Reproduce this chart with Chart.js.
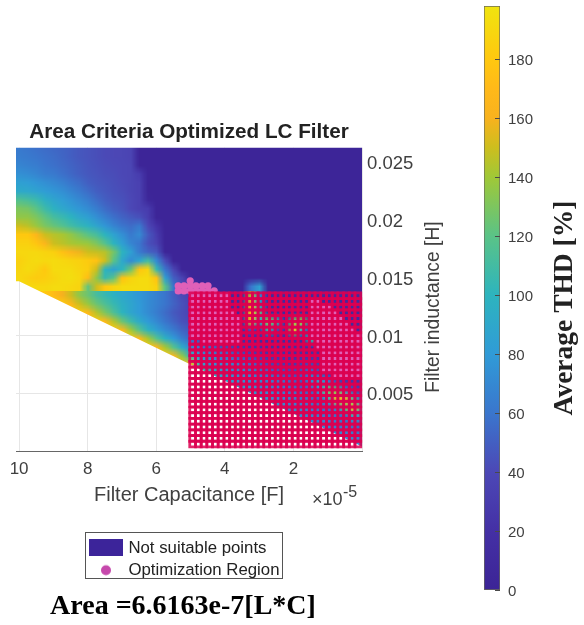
<!DOCTYPE html>
<html>
<head>
<meta charset="utf-8">
<script src="https://cdn.jsdelivr.net/npm/chart.js@4"></script>
<style>
html,body{margin:0;padding:0;background:#fff;width:584px;height:625px;overflow:hidden}
canvas{position:absolute;top:0;filter:blur(0.55px)}
#main{left:0}
#bar{left:470px}
</style>
</head>
<body>
<canvas id="main" width="470" height="625"></canvas>
<canvas id="bar" width="114" height="625"></canvas>
<script>
const titleText = "Area Criteria Optimized LC Filter";
const xTitle = "Filter Capacitance [F]";
const yTitle = "Filter inductance [H]";
const barTitle = "Average THD [%]";
const areaText = "Area =6.6163e-7[L*C]";
const legendNames = ["Not suitable points", "Optimization Region"];

// colour scale: THD value -> colour
const thdStops = [0,20,40,60,80,100,120,140,150,160,170,180,198];
const thdColors = [[60,36,150],[68,48,165],[76,72,182],[58,118,205],[48,155,215],[45,180,190],[90,195,135],[160,200,55],[205,190,30],[248,178,30],[255,185,25],[255,200,15],[240,228,15]];
const barTicks = [0,20,40,60,80,100,120,140,160,180];

// surface columns (capacitance, x1e-5 F) and rows (inductance, H)
const surfaceC = [10,9.75,9.5,9.25,9,8.75,8.5,8.25,8,7.75,7.5,7.25,7,6.75,6.5,6.25,6,5.75,5.5,5.25,5,4.75,4.5,4.25,4,3.75,3.5,3.25,3,2.75,2.5,2.25,2,1.75,1.5,1.25,1,0.75,0.5,0.25,0];
const surfaceL = [0.02625,0.0255,0.02475,0.024,0.02325,0.0225,0.02175,0.021,0.02025,0.0195,0.01875,0.018,0.01725,0.0165,0.01575,0.015,0.01425,0.0135,0.01275,0.012,0.01125,0.0105,0.00975,0.009,0.00825,0.0075,0.00675,0.006,0.00525,0.0045,0.00375,0.003,0.00225,0.0015,0.00075,0];
// lower edge of the computed surface
const edgeC = [10,5,0];
const edgeL = [0.0147,0.0075,0.0004];
// first listed column per row; columns after a row's list hold the floor value
const surfaceFloor = 2;
const rowStart = [0,0,0,0,0,0,0,0,0,0,0,0,0,0,0,0,0,3,5,7,9,11,13,15,17,20,22,24,26,28,30,32,34,36,39,40];
const thdRows = [
[62,60,58,56,54,52,50,47,45,43,41,40,39,37,2],
[64,62,60,58,56,53,50,47,45,43,41,40,39,37,2],
[68,66,64,60,58,55,52,49,46,44,42,41,40,38,3],
[74,72,68,64,62,58,54,50,47,45,43,42,40,38,30,2],
[84,82,78,74,70,66,60,56,50,47,45,43,41,38,34,2],
[92,90,86,82,78,74,68,62,56,50,47,44,42,38,34,3],
[116,112,106,96,88,82,76,70,64,56,50,46,44,40,34,6],
[130,128,120,108,98,90,84,78,72,64,56,50,46,40,34,30,2],
[136,136,130,122,112,106,100,90,84,74,66,58,52,48,44,32,2],
[150,146,138,130,124,118,110,104,98,88,78,68,60,56,62,40,22,2],
[180,180,165,150,145,142,136,128,120,112,100,86,74,62,70,48,30,2],
[186,186,178,165,150,146,142,140,138,130,118,100,84,68,60,44,34,2],
[190,190,190,188,185,175,165,158,150,148,145,128,100,84,62,52,46,2],
[186,190,192,190,192,190,188,186,182,176,150,120,90,72,88,110,70,42,2],
[188,192,188,180,192,192,192,188,184,150,100,85,100,125,178,188,105,60,38,2],
[190,186,182,184,188,192,194,190,172,135,105,120,176,188,192,192,176,85,50,36,4],
[192,190,190,190,192,192,190,188,122,150,180,188,192,192,192,192,186,120,60,40,30,2,2,2,2,2,2,60,85,2],
[180,172,160,150,135,125,112,105,98,90,85,78,72,66,60,50,40,34,10,10,10,10,10,10,145,70,10,10,10,10,10,10,10,10,10,10,10,10],
[182,168,150,138,125,115,105,95,88,80,72,66,60,52,44,36,12,12,12,12,12,12,168,92,10,10,10,10,10,10,10,10,10,10,10,10],
[182,168,145,130,115,100,88,80,72,64,56,48,42,36,14,14,14,14,14,14,178,120,10,10,10,10,10,10,10,10,10,10,10,10],
[182,168,145,125,108,92,80,70,60,52,44,40,16,16,16,16,16,16,170,90,135,110,14,130,140,20,12,12,12,12,12,12],
[182,168,140,118,98,84,72,62,52,46,20,20,20,20,20,20,40,20,105,40,20,190,90,22,14,14,14,14,14,14],
[182,168,142,118,98,80,64,54,40,34,28,24,20,18,16,14,14,14,14,14,14,110,90,20,14,14,14,14],
[182,168,142,118,92,72,62,56,48,40,32,26,22,20,18,18,18,18,18,18,18,18,18,18,18,18],
[182,168,135,100,78,72,66,60,52,44,36,30,24,24,22,20,22,22,22,22,20,20,20,20],
[178,100,76,74,72,68,62,56,48,38,34,30,28,34,40,30,24,22,22,22,22],
[110,90,74,70,70,66,62,56,50,42,40,48,60,44,30,24,22,22,22],
[95,80,72,68,68,66,62,56,50,44,72,90,66,40,28,24,22],
[90,78,70,68,66,62,58,52,46,80,130,130,70,40,30],
[90,76,70,68,64,60,56,50,90,160,165,110,50],
[85,72,68,66,62,58,52,70,120,178,90],
[80,72,68,64,60,56,52,90,70],
[80,72,68,64,60,56,52],
[80,72,66,62,60],
[80,70],
[70]
];

// optimisation region: sampled grid (hollow markers) and the suitable sub-set
const gridC = [4.94,4.77,4.61,4.44,4.28,4.11,3.94,3.78,3.61,3.45,3.28,3.11,2.95,2.78,2.61,2.45,2.28,2.12,1.95,1.78,1.62,1.45,1.29,1.12,0.95,0.79,0.62,0.45,0.29,0.12];
const gridL = [0.01344,0.01295,0.01246,0.01196,0.01147,0.01097,0.01048,0.00999,0.00949,0.009,0.0085,0.00801,0.00752,0.00702,0.00653,0.00603,0.00554,0.00505,0.00455,0.00406,0.00356,0.00307,0.00258,0.00208,0.00159,0.00109,0.0006];
const regionMask = [
"111111100000000000000000000000",
"111111100000000000000110000000",
"111111100000000000000111100000",
"111111110000000000000111110000",
"111111111000000000000111111000",
"111111111000000000000111111100",
"111111111000000000000111111110",
"111111111000000000000111111111",
"001111111000000000000011111111",
"000000000000000000000011111111",
"000000000000000000000001111111",
"000000000000000000000001111111",
"000000000000000000000001111111",
"000000000000000000000001111111",
"000000000000000000000000011111"
];
const blobC = [5.36,5.19,5.01,4.84,4.66,4.49,4.31,5.36,5.19,5.01,4.84,4.66,4.49,5.01];
const blobL = [0.01386,0.01386,0.01386,0.01386,0.01386,0.01386,0.01386,0.0143,0.0143,0.0143,0.0143,0.0143,0.0143,0.01473];

const sans = '"Liberation Sans", Arial, sans-serif';
const serif = '"Liberation Serif", "Times New Roman", serif';
const inkColor = '#404040';

function thdColor(v){
  let i = 0;
  while(i < thdStops.length-2 && v > thdStops[i+1]) i++;
  const t = Math.max(0, Math.min(1, (v-thdStops[i])/(thdStops[i+1]-thdStops[i])));
  return thdColors[i].map((c,k)=>Math.round(c+(thdColors[i+1][k]-c)*t));
}
function cssColor(a){ return 'rgb('+a.join(',')+')'; }

// full table, row by row
function cellValue(r,c){
  const row = thdRows[r], s = rowStart[r];
  if(c < s) return row[0];
  return c-s < row.length ? row[c-s] : surfaceFloor;
}
const surfacePoints = [];
surfaceL.forEach((L,r)=>surfaceC.forEach((C,c)=>{
  if(c >= rowStart[r]) surfacePoints.push({x:C,y:L,v:cellValue(r,c)});
}));
const gridPoints = [];
gridL.forEach(L=>gridC.forEach(C=>gridPoints.push({x:C,y:L})));
const regionPoints = blobC.map((C,i)=>({x:C,y:blobL[i]}));
regionMask.forEach((m,r)=>[...m].forEach((f,c)=>{ if(f==='1') regionPoints.push({x:gridC[c],y:gridL[r]}); }));

function bandImage(r0,r1){
  const w = surfaceC.length, h = r1-r0+1;
  const cv = document.createElement('canvas'); cv.width=w; cv.height=h;
  const cx = cv.getContext('2d'), img = cx.createImageData(w,h);
  for(let r=r0;r<=r1;r++) for(let c=0;c<w;c++){
    const col = thdColor(cellValue(r,c)), o = ((r-r0)*w+c)*4;
    img.data[o]=col[0]; img.data[o+1]=col[1]; img.data[o+2]=col[2]; img.data[o+3]=255;
  }
  cx.putImageData(img,0,0);
  return cv;
}
const ridgeRow = 17;
const surfacePlugin = {
  id:'surface',
  beforeDatasetsDraw(chart){
    const {ctx, chartArea:a, scales:{x,y}} = chart;
    const px = v=>x.getPixelForValue(v), py = v=>y.getPixelForValue(v);
    const dx = Math.abs(px(surfaceC[1])-px(surfaceC[0]));
    const dy = Math.abs(py(surfaceL[1])-py(surfaceL[0]));
    ctx.save();
    ctx.beginPath();
    ctx.moveTo(a.left,a.top);
    ctx.lineTo(a.right,a.top);
    ctx.lineTo(a.right,py(edgeL[2]));
    for(let i=edgeC.length-1;i>=0;i--) ctx.lineTo(px(edgeC[i]),py(edgeL[i]));
    ctx.lineTo(a.left,py(edgeL[0]));
    ctx.closePath();
    ctx.clip();
    ctx.imageSmoothingEnabled = true;
    const x0 = px(surfaceC[0])-dx/2, wd = dx*surfaceC.length;
    [[0,ridgeRow-1],[ridgeRow,surfaceL.length-1]].forEach(([r0,r1])=>{
      const y0 = py(surfaceL[r0])-dy/2, hd = dy*(r1-r0+1);
      ctx.drawImage(bandImage(r0,r1), x0, y0, wd, hd);
    });
    ctx.restore();
  }
};

function swatch(draw){
  const c = document.createElement('canvas'); c.width=34; c.height=17;
  draw(c.getContext('2d')); return c;
}
const swatchDark = swatch(g=>{g.fillStyle='#3c249a'; g.fillRect(0,0,34,17);});
const swatchDot = swatch(g=>{g.fillStyle='#c648ac'; g.beginPath(); g.arc(17,8.5,5,0,Math.PI*2); g.fill();});

const framePlugin = {
  id:'frame',
  beforeDraw(chart){
    const c = chart.ctx;
    c.save();
    c.fillStyle='#fff'; c.fillRect(85,532,198,47);
    c.strokeStyle='#555'; c.lineWidth=1; c.strokeRect(85.5,532.5,197,46);
    c.restore();
  },
  afterLayout(chart){
    const l = chart.legend;
    l.left=86.5; l.top=534; l.right=283; l.bottom=622; l.width=196.5; l.height=88;
  },
  afterDraw(chart){
    const c = chart.ctx;
    c.save();
    c.fillStyle=inkColor; c.textBaseline='alphabetic'; c.textAlign='left';
    c.font='18px '+sans; c.fillText('\u00d710',312,505);
    c.font='16px '+sans; c.fillText('-5',343,497);
    c.fillStyle='#000'; c.textAlign='center'; c.textBaseline='middle';
    c.font='bold 28px '+serif; c.fillText(areaText,183,607);
    c.fillStyle=inkColor;
    c.translate(434,307); c.rotate(-Math.PI/2);
    c.font='19.3px '+sans; c.fillText(yTitle,0,0);
    c.restore();
  }
};

new Chart(document.getElementById('main'),{
  type:'scatter',
  data:{datasets:[
    {label:legendNames[0],order:2,data:surfacePoints,pointRadius:0,pointHoverRadius:0,backgroundColor:'#3c249a',borderColor:'#3c249a'},
    {label:legendNames[1],order:1,data:regionPoints,pointRadius:3.6,pointBorderWidth:0,backgroundColor:'#e060b8',borderColor:'#e060b8',clip:false},
    {label:'Sampled grid',order:0,data:gridPoints,pointStyle:'rect',pointRadius:4.03,pointBorderWidth:2.8,backgroundColor:'rgba(0,0,0,0)',borderColor:'rgba(220,0,80,0.85)',clip:false}
  ]},
  options:{
    responsive:false,animation:false,events:[],
    layout:{padding:{left:16,right:28,top:0,bottom:114}},
    scales:{
      x:{type:'linear',reverse:true,min:0,max:10.09,
        afterFit(s){s.height=60;},
        grid:{color:'#e6e6e6',drawTicks:false},
        border:{color:'#666',width:1},
        ticks:{stepSize:2,includeBounds:false,padding:8,color:inkColor,maxRotation:0,font:{family:sans,size:17},
          callback:v=>v===0?'':String(v)},
        title:{display:true,text:xTitle,color:inkColor,font:{family:sans,size:20,lineHeight:1.2},padding:{top:0,bottom:4}}},
      y:{type:'linear',position:'right',min:0,max:0.02626,
        afterFit(s){s.width=80;},
        grid:{color:'#e6e6e6',drawTicks:false},
        border:{display:false},
        ticks:{stepSize:0.005,includeBounds:false,padding:5,labelOffset:2,color:inkColor,font:{family:sans,size:18.5},
          callback:v=>v===0?'':String(+v.toFixed(3))}}
    },
    plugins:{
      title:{display:true,text:titleText,fullSize:false,color:'#222',font:{family:sans,size:20.7,weight:'bold',lineHeight:1},padding:{top:122,bottom:5}},
      tooltip:{enabled:false},
      legend:{position:'chartArea',align:'start',
        labels:{padding:5.5,color:'#222',font:{family:sans,size:16.8},usePointStyle:true,pointStyleWidth:28,boxHeight:14,
          generateLabels(){return legendNames.map((n,i)=>({text:n,datasetIndex:i,pointStyle:i===0?swatchDark:swatchDot,fontColor:'#222',lineWidth:0,fillStyle:'#000',strokeStyle:'#000'}));}}}
    }
  },
  plugins:[surfacePlugin,framePlugin]
});

const barExtras = {
  id:'barExtras',
  afterDraw(chart){
    const {ctx:c,chartArea:a,scales:{y}} = chart;
    c.save();
    c.strokeStyle='#4a4a4a'; c.lineWidth=1;
    barTicks.forEach(v=>{const p=Math.round(y.getPixelForValue(v))+0.5; c.beginPath(); c.moveTo(a.right-5,p); c.lineTo(a.right,p); c.stroke();});
    c.fillStyle='#222'; c.textAlign='center'; c.textBaseline='middle';
    c.translate(95,308); c.rotate(-Math.PI/2);
    c.font='bold 27.5px '+serif; c.fillText(barTitle,0,0);
    c.restore();
  }
};
new Chart(document.getElementById('bar'),{
  type:'bar',
  data:{labels:['THD'],datasets:[{
    data:[[thdStops[0],thdStops[thdStops.length-1]]],
    barPercentage:1,categoryPercentage:1,borderWidth:1,borderSkipped:false,borderColor:'#6a6a5a',
    backgroundColor(ctx){
      const ch = ctx.chart, a = ch.chartArea;
      if(!a) return '#000';
      const g = ch.ctx.createLinearGradient(0,a.bottom,0,a.top), top = thdStops[thdStops.length-1];
      thdStops.forEach((v,i)=>g.addColorStop(v/top,cssColor(thdColors[i])));
      return g;
    }
  }]},
  options:{
    responsive:false,animation:false,events:[],
    layout:{padding:{left:14,right:40,top:6,bottom:35}},
    plugins:{legend:{display:false},tooltip:{enabled:false},title:{display:false}},
    scales:{
      x:{display:false},
      y:{position:'right',min:0,max:198,
        afterFit(s){s.width=44;s.paddingTop=0;s.paddingBottom=0;},
        grid:{display:false,drawTicks:false},border:{display:false},
        ticks:{stepSize:20,includeBounds:false,padding:8,labelOffset:2,color:inkColor,font:{family:sans,size:15}}}
    }
  },
  plugins:[barExtras]
});
</script>
</body>
</html>
